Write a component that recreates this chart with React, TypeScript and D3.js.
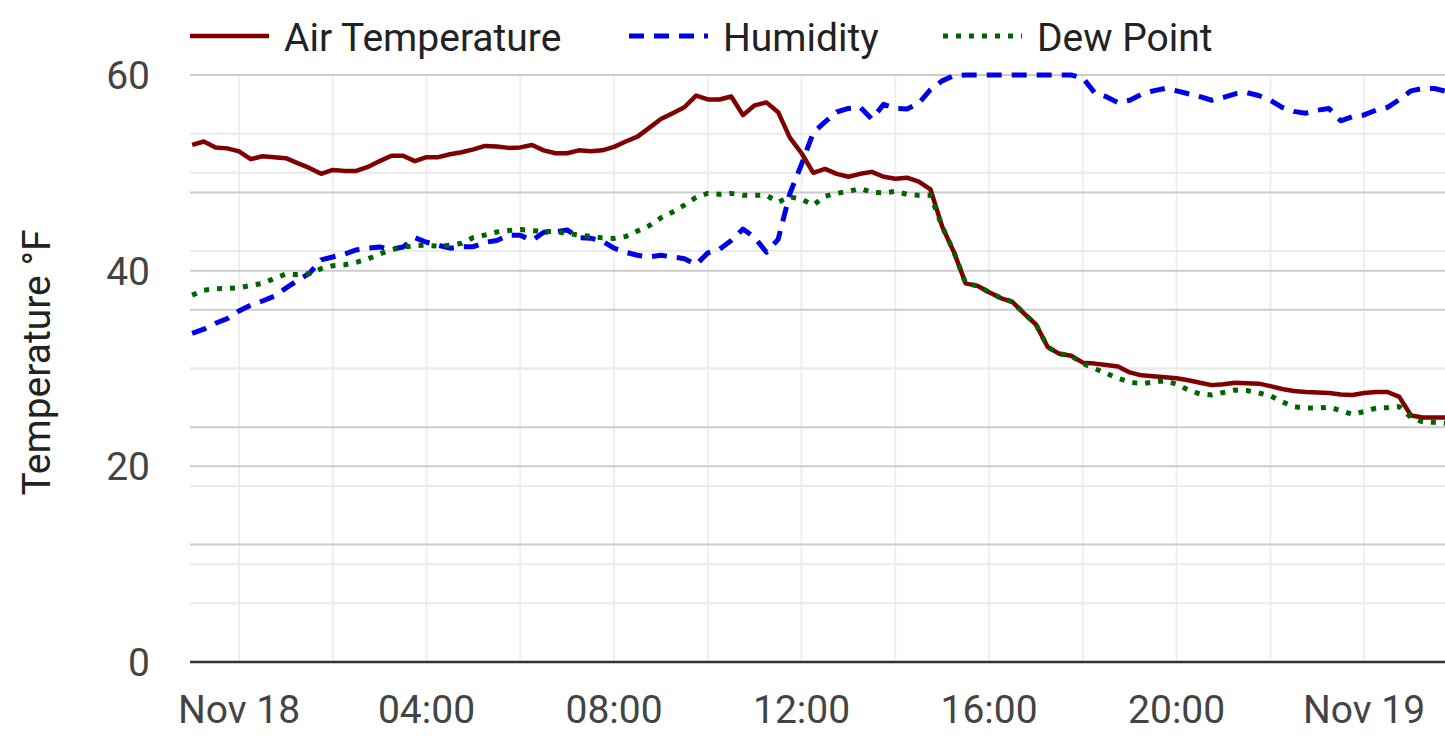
import { useEffect, useRef } from "react";
import * as d3 from "d3";

const WIDTH = 1445;
const HEIGHT = 755;
const PLOT = { left: 190, right: 1445, top: 75, bottom: 662 };

const MAROON = "#800000";
const BLUE = "#0000e6";
const GREEN = "#006400";

// readings every 15 min, first one at 23:00 on Nov 17
const FIRST_READING = new Date(2023, 10, 17, 23, 0);
const STEP_MIN = 15;

// °F
const airTemp = [
  52.85, 53.2, 52.6, 52.5, 52.2, 51.4, 51.7, 51.6, 51.5, 51.0, 50.5, 49.9,
  50.3, 50.2, 50.2, 50.6, 51.2, 51.75, 51.75, 51.2, 51.6, 51.6, 51.9, 52.1,
  52.4, 52.75, 52.7, 52.55, 52.6, 52.85, 52.3, 52.0, 52.0, 52.3, 52.2, 52.3,
  52.65, 53.2, 53.7, 54.6, 55.5, 56.1, 56.7, 57.9, 57.5, 57.5, 57.8, 55.9,
  56.9, 57.2, 56.2, 53.6, 52.0, 50.0, 50.4, 49.9, 49.6, 49.9, 50.1, 49.6,
  49.4, 49.5, 49.1, 48.3, 44.5, 41.9, 38.7, 38.45, 37.8, 37.2, 36.8, 35.6,
  34.5, 32.2, 31.5, 31.3, 30.6, 30.5, 30.35, 30.2, 29.6, 29.3, 29.2, 29.1,
  29.0, 28.8, 28.55, 28.3, 28.4, 28.55, 28.5, 28.45, 28.2, 27.9, 27.7, 27.6,
  27.55, 27.5, 27.35, 27.3, 27.5, 27.6, 27.6, 27.1, 25.2, 25.0, 25.0, 25.0,
];

// %RH, drawn on the hidden right axis (0–100)
const humidity = [
  56, 56.7, 57.7, 58.5, 59.8, 60.8, 61.5, 62.3, 63.7, 65, 66.2, 68.5,
  69, 69.5, 70.2, 70.5, 70.7, 70.3, 70.7, 72.3, 71.5, 71, 70.5, 70.75,
  70.75, 71.5, 71.8, 72.7, 72.7, 71.8, 73.2, 73.3, 73.6, 72.3, 72.2, 71.7,
  70.5, 69.8, 69.3, 69, 69.3, 69, 68.7, 67.7, 69.7, 70.3, 71.8, 73.75,
  72.3, 69.8, 72, 79.8, 84.8, 90.2, 92, 93.7, 94.3, 94.5, 92.5, 95,
  94.3, 94.2, 95.2, 97.5, 99, 99.9, 100, 100, 100, 100, 100, 100,
  100, 100, 100, 100, 99.5, 97, 96.3, 95.3, 95.7, 96.7, 97.3, 97.7,
  97.3, 96.8, 96.3, 95.7, 96.2, 96.8, 97, 96.5, 95.7, 94.5, 93.8, 93.5,
  94, 94.3, 92.2, 92.9, 93.2, 94, 94.5, 95.8, 97.3, 97.7, 97.7, 97.2,
];

// °F
const dewPoint = [
  37.5, 38.0, 38.15, 38.2, 38.25, 38.5, 38.7, 39.2, 39.65, 39.6, 39.7, 40.2,
  40.5, 40.6, 40.85, 41.2, 41.7, 42.15, 42.4, 42.55, 42.6, 42.5, 42.6, 42.8,
  43.4, 43.65, 43.95, 44.1, 44.2, 44.1, 44.0, 44.0, 43.8, 43.65, 43.5, 43.35,
  43.3, 43.5, 44.05, 44.6, 45.4, 46.0, 46.7, 47.5, 47.9, 47.8, 47.9, 47.7,
  47.7, 47.7, 47.0, 47.55, 47.3, 46.7, 47.6, 47.9, 48.1, 48.4, 48.0, 47.95,
  48.1, 47.8, 47.7, 47.7, 44.5, 41.9, 38.7, 38.45, 37.8, 37.2, 36.8, 35.6,
  34.5, 32.2, 31.5, 31.3, 30.5, 30.0, 29.5, 29.0, 28.6, 28.45, 28.6, 28.75,
  28.4, 27.8, 27.4, 27.3, 27.55, 27.8, 27.75, 27.5, 27.2, 26.6, 26.1, 25.95,
  25.95, 26.05, 25.7, 25.3, 25.6, 25.95, 26.0, 26.1, 25.0, 24.55, 24.5, 24.4,
];

const TEMP_TICKS = [0, 20, 40, 60];
const TEMP_MINOR = [10, 30, 50];
const HUM_TICKS = [20, 40, 60, 80];
const HUM_MINOR = [10, 30, 50, 70, 90];

const X_START = new Date(2023, 10, 17, 22, 57, 17);
const X_END = new Date(2023, 10, 19, 1, 43, 30);

const SERIES = [
  { name: "Air Temperature", color: MAROON, dash: null, width: 4.5 },
  { name: "Humidity", color: BLUE, dash: "15,10", width: 5 },
  { name: "Dew Point", color: GREEN, dash: "5,8", width: 5 },
];
const LEGEND_X = [190, 629, 943];
const FONT_SIZE = 39;

export default function App() {
  const svgRef = useRef<SVGSVGElement>(null);

  useEffect(() => {
    const svg = d3.select(svgRef.current);
    svg.selectAll("*").remove();
    svg.attr("width", WIDTH).attr("height", HEIGHT);

    const font = "Roboto, sans-serif";

    const x = d3.scaleTime().domain([X_START, X_END]).range([PLOT.left, PLOT.right]);
    const yT = d3.scaleLinear().domain([0, 60]).range([PLOT.bottom, PLOT.top]);
    const yH = d3.scaleLinear().domain([0, 100]).range([PLOT.bottom, PLOT.top]);

    const times = airTemp.map((_, i) => d3.timeMinute.offset(FIRST_READING, i * STEP_MIN));

    svg
      .append("defs")
      .append("clipPath")
      .attr("id", "plot-clip")
      .append("rect")
      .attr("x", PLOT.left)
      .attr("y", 0)
      .attr("width", PLOT.right - PLOT.left)
      .attr("height", PLOT.bottom + 10);

    // minor grid first, then major on top
    const minorY = [...TEMP_MINOR.map((v) => yT(v)), ...HUM_MINOR.map((v) => yH(v))];
    const majorY = [...TEMP_TICKS.slice(1).map((v) => yT(v)), ...HUM_TICKS.map((v) => yH(v))];

    svg
      .append("g")
      .selectAll("line")
      .data(x.ticks(d3.timeHour.every(2)!))
      .join("line")
      .attr("x1", (d) => x(d))
      .attr("x2", (d) => x(d))
      .attr("y1", PLOT.top)
      .attr("y2", PLOT.bottom)
      .attr("stroke", "#efefef")
      .attr("stroke-width", 2);

    svg
      .append("g")
      .selectAll("line")
      .data(minorY)
      .join("line")
      .attr("x1", PLOT.left)
      .attr("x2", PLOT.right)
      .attr("y1", (d) => d)
      .attr("y2", (d) => d)
      .attr("stroke", "#ebebeb")
      .attr("stroke-width", 2);

    svg
      .append("g")
      .selectAll("line")
      .data(majorY)
      .join("line")
      .attr("x1", PLOT.left)
      .attr("x2", PLOT.right)
      .attr("y1", (d) => d)
      .attr("y2", (d) => d)
      .attr("stroke", "#cccccc")
      .attr("stroke-width", 2);

    // baseline
    svg
      .append("line")
      .attr("x1", PLOT.left)
      .attr("x2", PLOT.right)
      .attr("y1", yT(0))
      .attr("y2", yT(0))
      .attr("stroke", "#333333")
      .attr("stroke-width", 2.5);

    // lines
    const plot = svg.append("g").attr("clip-path", "url(#plot-clip)");
    const lineT = d3
      .line<number>()
      .x((_, i) => x(times[i]))
      .y((d) => yT(d));
    const lineH = d3
      .line<number>()
      .x((_, i) => x(times[i]))
      .y((d) => yH(d));

    const drawOrder = [
      { data: humidity, gen: lineH, s: SERIES[1] },
      { data: airTemp, gen: lineT, s: SERIES[0] },
      { data: dewPoint, gen: lineT, s: SERIES[2] },
    ];
    drawOrder.forEach(({ data, gen, s }) => {
      plot
        .append("path")
        .attr("d", gen(data))
        .attr("fill", "none")
        .attr("stroke", s.color)
        .attr("stroke-width", s.width)
        .attr("stroke-linejoin", "round")
        .attr("stroke-dasharray", s.dash)
        .attr("stroke-linecap", "butt");
    });

    // y tick labels
    svg
      .append("g")
      .selectAll("text")
      .data(TEMP_TICKS)
      .join("text")
      .attr("x", 150)
      .attr("y", (d) => yT(d))
      .attr("dy", "0.355em")
      .attr("text-anchor", "end")
      .attr("font-family", font)
      .attr("font-size", FONT_SIZE)
      .attr("fill", "#444444")
      .text((d) => d);

    // x tick labels
    const fmt = (d: Date) =>
      d.getHours() === 0 ? d3.timeFormat("%b %d")(d) : d3.timeFormat("%H:%M")(d);
    svg
      .append("g")
      .selectAll("text")
      .data(x.ticks(d3.timeHour.every(4)!))
      .join("text")
      .attr("x", (d) => x(d))
      .attr("y", 723)
      .attr("text-anchor", "middle")
      .attr("font-family", font)
      .attr("font-size", FONT_SIZE)
      .attr("fill", "#444444")
      .text(fmt);

    // y title
    svg
      .append("text")
      .attr("transform", `translate(50,${(PLOT.top + PLOT.bottom) / 2 - 6}) rotate(-90)`)
      .attr("text-anchor", "middle")
      .attr("font-family", font)
      .attr("font-size", FONT_SIZE)
      .attr("fill", "#222222")
      .text("Temperature °F");

    // legend
    SERIES.forEach((s, i) => {
      const lx = LEGEND_X[i];
      svg
        .append("line")
        .attr("x1", lx)
        .attr("x2", lx + 79)
        .attr("y1", 36)
        .attr("y2", 36)
        .attr("stroke", s.color)
        .attr("stroke-width", s.width)
        .attr("stroke-dasharray", s.dash);
      svg
        .append("text")
        .attr("x", lx + 94)
        .attr("y", 51)
        .attr("font-family", font)
        .attr("font-size", FONT_SIZE)
        .attr("fill", "#222222")
        .text(s.name);
    });
  }, []);

  return (
    <svg
      ref={svgRef}
      style={{ position: "absolute", left: 0, top: 0, display: "block", background: "#fff" }}
    />
  );
}
